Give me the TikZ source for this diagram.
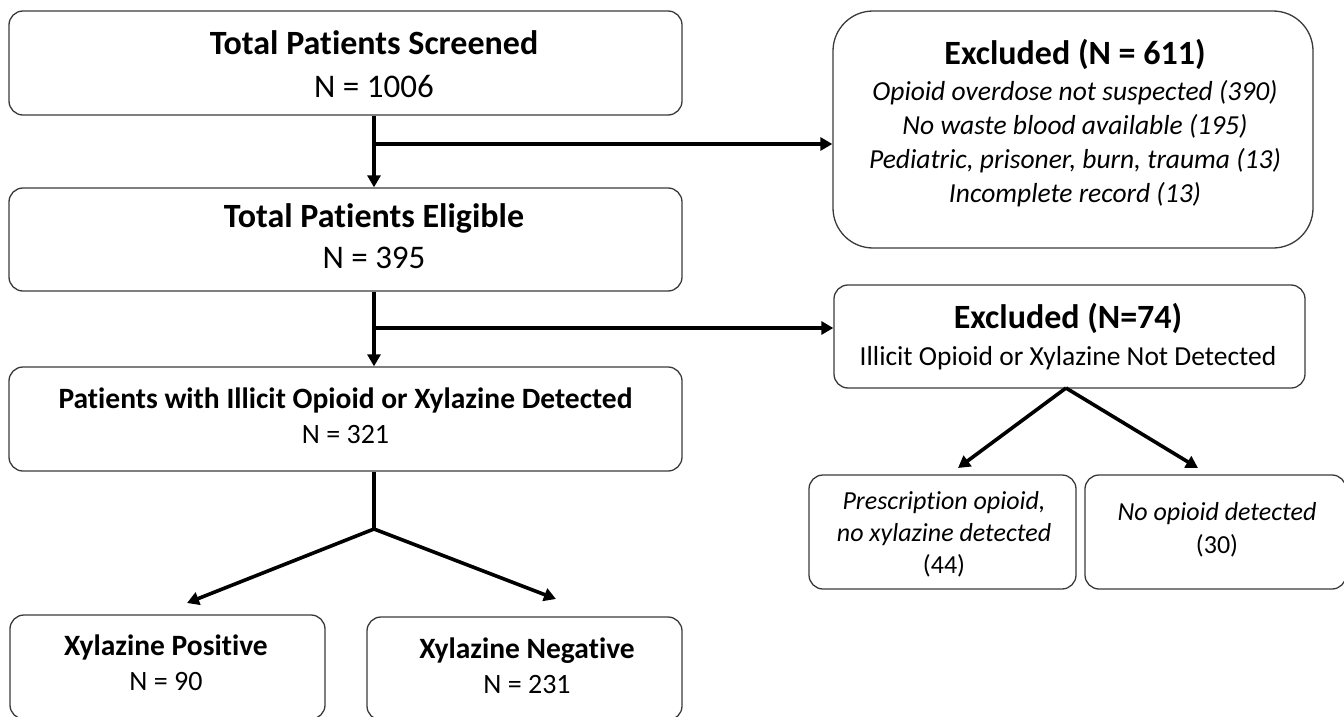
\documentclass[tikz,border=0pt]{standalone}
\usepackage{fontspec}
\setmainfont[Ligatures=NoCommon]{Carlito}
\usetikzlibrary{arrows.meta,calc}
\definecolor{boxgray}{HTML}{3A3A3A}
\tikzset{
  box/.style={draw=boxgray, line width=1.3pt, rounded corners=14pt, inner sep=0pt, fill=none},
  bigbox/.style={box, rounded corners=40pt},
  txt/.style={anchor=base, inner sep=0pt},
  ttl/.style={txt, font=\fontsize{34}{40}\selectfont\bfseries},
  num/.style={txt, font=\fontsize{33}{40}\selectfont},
  ttls/.style={txt, font=\fontsize{29.5}{34}\selectfont\bfseries},
  nums/.style={txt, font=\fontsize{28}{34}\selectfont},
  itl/.style={txt, font=\fontsize{27.5}{32}\selectfont\itshape},
  reg/.style={txt, font=\fontsize{27.5}{32}\selectfont},
  itc/.style={txt, font=\fontsize{26}{30}\selectfont\itshape},
  regc/.style={txt, font=\fontsize{26}{30}\selectfont},
  conn/.style={line width=3.6pt, draw=black},
  arr/.style={conn, -{Triangle[length=12pt,width=13pt]}}
}
\begin{document}
\begin{tikzpicture}[x=1pt,y=-1pt]
\useasboundingbox (0,0) rectangle (1344,717);
% boxes
\node[box, minimum width=673pt, minimum height=104pt] (b1) at (345.5,63) {};
\node[box, minimum width=673pt, minimum height=103pt] (b2) at (345.5,239.5) {};
\node[box, minimum width=673pt, minimum height=104pt] (b3) at (345.5,419) {};
\node[box, minimum width=315pt, minimum height=104pt] (pos) at (167.5,667) {};
\node[box, minimum width=315pt, minimum height=103pt] (neg) at (524.5,668.5) {};
\node[bigbox, minimum width=480pt, minimum height=237pt] (ex1) at (1073,129.5) {};
\node[box, minimum width=471pt, minimum height=103pt] (ex2) at (1069.5,336.5) {};
\node[box, minimum width=267pt, minimum height=114pt] (c1) at (942.5,532) {};
\node[box, minimum width=261pt, minimum height=114pt] (c2) at (1215.5,532) {};
% texts
\node[ttl] (t1a) at (374,55) {Total Patients Screened};
\node[num] (t1b) at (374,97) {N = 1006};
\node[ttl] (t2a) at (374,227) {Total Patients Eligible};
\node[num] (t2b) at (374,268) {N = 395};
\node[ttls] (t3a) at (345.5,408) {Patients with Illicit Opioid or Xylazine Detected};
\node[nums] (t3b) at (345.5,443) {N = 321};
\node[ttls] (tpa) at (166,655) {Xylazine Positive};
\node[nums] (tpb) at (166,690) {N = 90};
\node[ttls] (tna) at (527,658) {Xylazine Negative};
\node[nums] (tnb) at (527,693) {N = 231};
\node[ttl] (te1) at (1075,65) {Excluded (N = 611)};
\node[itl] (te1a) at (1075,100) {Opioid overdose not suspected (390)};
\node[itl] (te1b) at (1075,134) {No waste blood available (195)};
\node[itl] (te1c) at (1075,168) {Pediatric, prisoner, burn, trauma (13)};
\node[itl] (te1d) at (1075,202) {Incomplete record (13)};
\node[ttl] (te2) at (1068,328) {Excluded (N=74)};
\node[reg] (te2a) at (1068,365) {Illicit Opioid or Xylazine Not Detected};
\node[itc] (tc1a) at (944,509) {Prescription opioid,};
\node[itc] (tc1b) at (944,541) {no xylazine detected};
\node[regc] (tc1c) at (944,573) {(44)};
\node[itc] (tc2a) at (1217,520) {No opioid detected};
\node[regc] (tc2b) at (1217,553) {(30)};
% connectors
\coordinate (j1) at (374,144);
\coordinate (j2) at (374,328);
\coordinate (s3) at (374,529);
\coordinate (tp) at (187,603);
\coordinate (tn) at (556,599);
\coordinate (ap) at (1066,388);
\coordinate (tc1) at (958,468);
\coordinate (tc2) at (1198,468);
\draw[arr] (b1.south -| j1) -- (b2.north -| j1);
\draw[arr] (j1) -- (j1 -| ex1.west);
\draw[arr] (b2.south -| j2) -- (b3.north -| j2);
\draw[arr] (j2) -- (j2 -| ex2.west);
\draw[conn] (b3.south -| s3) -- (s3);
\draw[arr, line join=round] (s3) -- (tp);
\draw[arr, line join=round] (s3) -- (tn);
\draw[arr] (ap) -- (tc1);
\draw[arr] (ap) -- (tc2);
\end{tikzpicture}
\end{document}
